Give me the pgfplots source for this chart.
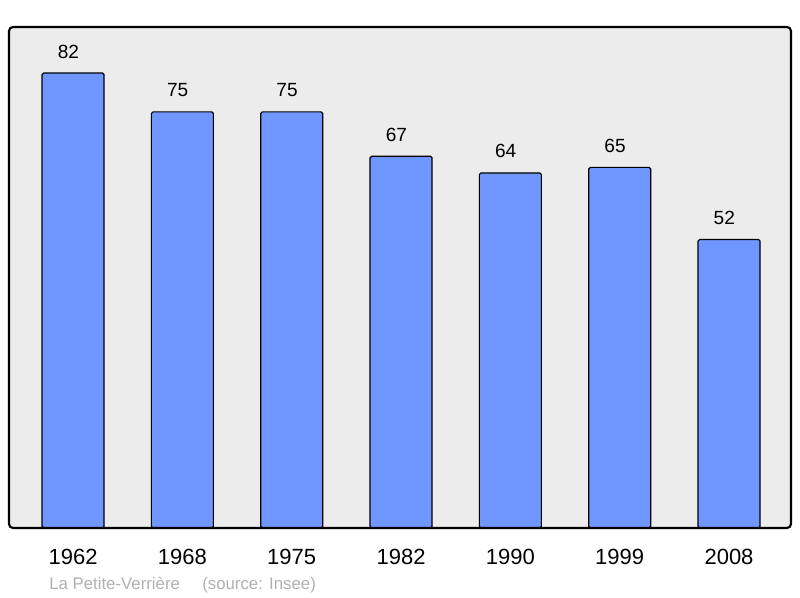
\documentclass[border=0pt]{standalone}
\usepackage{pgfplots}
\pgfplotsset{compat=1.18}
\usepackage{fontspec}
\setmainfont{Liberation Sans}
\definecolor{barblue}{RGB}{112,150,255}
\definecolor{bg}{RGB}{236,236,236}
\definecolor{foot}{RGB}{176,176,176}
\begin{document}
\begin{tikzpicture}[x=1pt,y=1pt]
\path (0,0) rectangle (600,448.5);
\begin{axis}[
  at={(6.75pt,52.5pt)}, anchor=south west,
  scale only axis, width=586.5pt, height=375.75pt,
  xmin=-0.586, xmax=6.567, ymin=0, ymax=90.3,
  axis lines=none,
  clip=false,
  xtick=data,
  xticklabels={1962,1968,1975,1982,1990,1999,2008},
  ytick=\empty,
  ybar, bar width=46.5pt,
  /pgf/number format/assume math mode=true,
  nodes near coords,
  nodes near coords align={center},
  every node near coord/.append style={font=\fontsize{14.3pt}{16pt}\selectfont, anchor=base, yshift=11.25pt, xshift=-3.5pt},
]
\fill[bg] (rel axis cs:0,0) rectangle (rel axis cs:1,1);
\addplot[fill=barblue, draw=black, line width=0.9pt, rounded corners=1.2pt] coordinates {
(0,82) (1,75) (2,75) (3,67) (4,64) (5,65) (6,52)};
\draw[line width=1.6pt, rounded corners=3pt] (rel axis cs:0,0) rectangle (rel axis cs:1,1);
\foreach \i/\l in {0/1962,1/1968,2/1975,3/1982,4/1990,5/1999,6/2008}{
  \edef\tmp{\noexpand\node[anchor=base, font=\noexpand\fontsize{16.5pt}{18pt}\noexpand\selectfont] at (axis cs:\i,0) [yshift=-27.75pt] {\l};}\tmp
}
\end{axis}
\node[anchor=base west, text=foot, font=\fontsize{12.6pt}{14pt}\selectfont, inner sep=0pt] at (36.75pt,6pt) {La Petite-Verrière};
\node[anchor=base west, text=foot, font=\fontsize{12.6pt}{14pt}\selectfont, inner sep=0pt] at (151.5pt,6pt) {(source: Insee)};
\end{tikzpicture}
\end{document}
